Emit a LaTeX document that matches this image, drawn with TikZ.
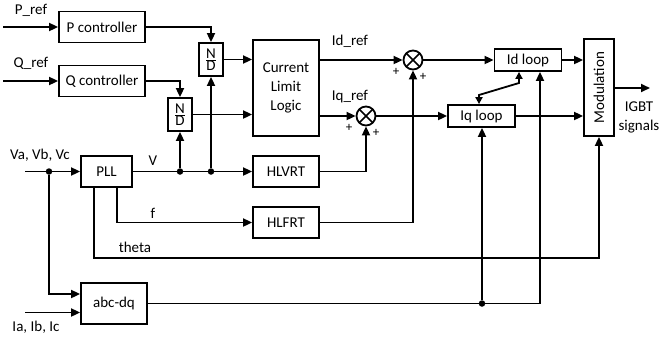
\documentclass[tikz,border=0pt]{standalone}
\usepackage{fontspec}
\setmainfont{Carlito}
\usetikzlibrary{arrows.meta,calc}
\begin{document}
\begin{tikzpicture}[x=1pt,y=-1pt,
  every node/.style={font=\fontsize{15}{17}\selectfont},
  blk/.style={draw,line width=1.8pt,inner sep=0pt,align=center},
  sumnode/.style={draw,circle,line width=1.8pt,minimum size=19pt,inner sep=0pt,
    path picture={\draw[line width=1.5pt] (path picture bounding box.north west) -- (path picture bounding box.south east)
      (path picture bounding box.north east) -- (path picture bounding box.south west);}},
  wire/.style={line width=1.8pt},
  arr/.style={line width=1.8pt,-{Triangle[length=9pt,width=8pt]}},
  biarr/.style={line width=1.8pt,{Triangle[length=7pt,width=7pt]}-{Triangle[length=7pt,width=7pt]}},
  dot/.style={circle,fill,inner sep=0pt,minimum size=6.5pt},
  lbl/.style={inner sep=0pt},
  pl/.style={inner sep=0pt,font=\fontsize{13}{15}\selectfont}]
\useasboundingbox (0,0) rectangle (659,341);
% blocks
\node[blk,minimum width=86pt,minimum height=31pt] (pc) at (102,27) {P controller};
\node[blk,minimum width=86pt,minimum height=31pt] (qc) at (102,81) {Q controller};
\node[blk,minimum width=24pt,minimum height=33pt] (nd1) at (211,59.5) {$\frac{\mbox{N}}{\mbox{D}}$};
\node[blk,minimum width=24pt,minimum height=33pt] (nd2) at (180,114.5) {$\frac{\mbox{N}}{\mbox{D}}$};
\node[blk,minimum width=66pt,minimum height=96pt,font=\fontsize{15}{19}\selectfont] (cll) at (286,88) {Current\\Limit\\Logic};
\node[sumnode] (s1) at (413,60) {};
\node[sumnode] (s2) at (366,116) {};
\node[blk,minimum width=67pt,minimum height=22pt] (idl) at (528,60) {Id loop};
\node[blk,minimum width=67pt,minimum height=22pt] (iql) at (481.5,116) {Iq loop};
\node[blk,minimum width=30pt,minimum height=97pt] (mod) at (599,87.5) {};
\node[rotate=90,inner sep=0pt] at (mod.center) {Modulation};
\node[blk,minimum width=51pt,minimum height=31pt] (pll) at (106.5,171.5) {PLL};
\node[blk,minimum width=66pt,minimum height=31pt] (hlv) at (286,171.5) {HLVRT};
\node[blk,minimum width=66pt,minimum height=31pt] (hlf) at (286,222.5) {HLFRT};
\node[blk,minimum width=66pt,minimum height=41pt] (abc) at (114,303.5) {abc-dq};
% coordinates
\coordinate (pin) at (3,27);
\coordinate (qin) at (3,81);
\coordinate (vin) at (25,171.5);
\coordinate (iin) at (25,312.5);
\coordinate (out) at (650,88);
\node[dot] (dv) at (49,171.5) {};
\node[dot] (d1) at (180,171.5) {};
\node[dot] (d2) at (211,171.5) {};
\node[dot] (d3) at (482,303.5) {};
\coordinate (c540) at (540,303.5);
\coordinate (fb) at (117,222.5);
\coordinate (thb) at (94,258);
\coordinate (thr) at (599,258);
\coordinate (bi1) at (519,83);
\coordinate (bi2) at (479,95);
% labels
\node[lbl] at (31,10) {P\_ref};
\node[lbl] at (31,63) {Q\_ref};
\node[lbl] at (350,41) {Id\_ref};
\node[lbl] at (350,97) {Iq\_ref};
\node[lbl] at (40,155) {Va, Vb, Vc};
\node[lbl] at (36,327) {Ia, Ib, Ic};
\node[lbl] at (153,161) {V};
\node[lbl] at (153,213) {f};
\node[lbl] at (135,247) {theta};
\node[lbl,align=center,font=\fontsize{15}{19}\selectfont] at (639,117) {IGBT\\signals};
\node[pl] at (396,72) {+};
\node[pl] at (423,77) {+};
\node[pl] at (349,128) {+};
\node[pl] at (376,133) {+};
% connectors
\draw[arr] (pin) -- (pc.west);
\draw[arr] (qin) -- (qc.west);
\draw[arr] (pc.east) -| (nd1.north);
\draw[arr] (qc.east) -| (nd2.north);
\draw[arr] (nd1.east) -- (nd1.east -| cll.west);
\draw[arr] (nd2.east) -- (nd2.east -| cll.west);
\draw[arr] (cll.east |- s1) -- (s1.west);
\draw[arr] (cll.east |- s2) -- (s2.west);
\draw[arr] (s1.east) -- (idl.west);
\draw[arr] (s2.east) -- (iql.west);
\draw[arr] (idl.east) -- (idl.east -| mod.west);
\draw[arr] (iql.east) -- (iql.east -| mod.west);
\draw[arr] (mod.east |- out) -- (out);
\draw[biarr] ([xshift=-9pt]idl.south) -- (bi1) -- (bi2) -- (bi2 |- iql.north);
\draw[arr] (vin) -- (pll.west);
\draw[arr] (pll.east) -- (hlv.west);
\draw[arr] (d1) -- (nd2.south);
\draw[arr] (d2) -- (nd1.south);
\draw[arr] (hlv.east) -| (s2.south);
\draw[arr] (fb |- pll.south) -- (fb) -- (hlf.west);
\draw[arr] (hlf.east) -| (s1.south);
\draw[arr] (thb |- pll.south) -- (thb) -- (thr) -- (mod.south);
\draw[arr] (dv) |- ([yshift=9.5pt]abc.west);
\draw[arr] (iin) -- (iin -| abc.west);
\draw[wire] (abc.east) -- (c540);
\draw[arr] (c540) -- (c540 |- idl.south);
\draw[arr] (d3) -- (d3 |- iql.south);
\end{tikzpicture}
\end{document}
